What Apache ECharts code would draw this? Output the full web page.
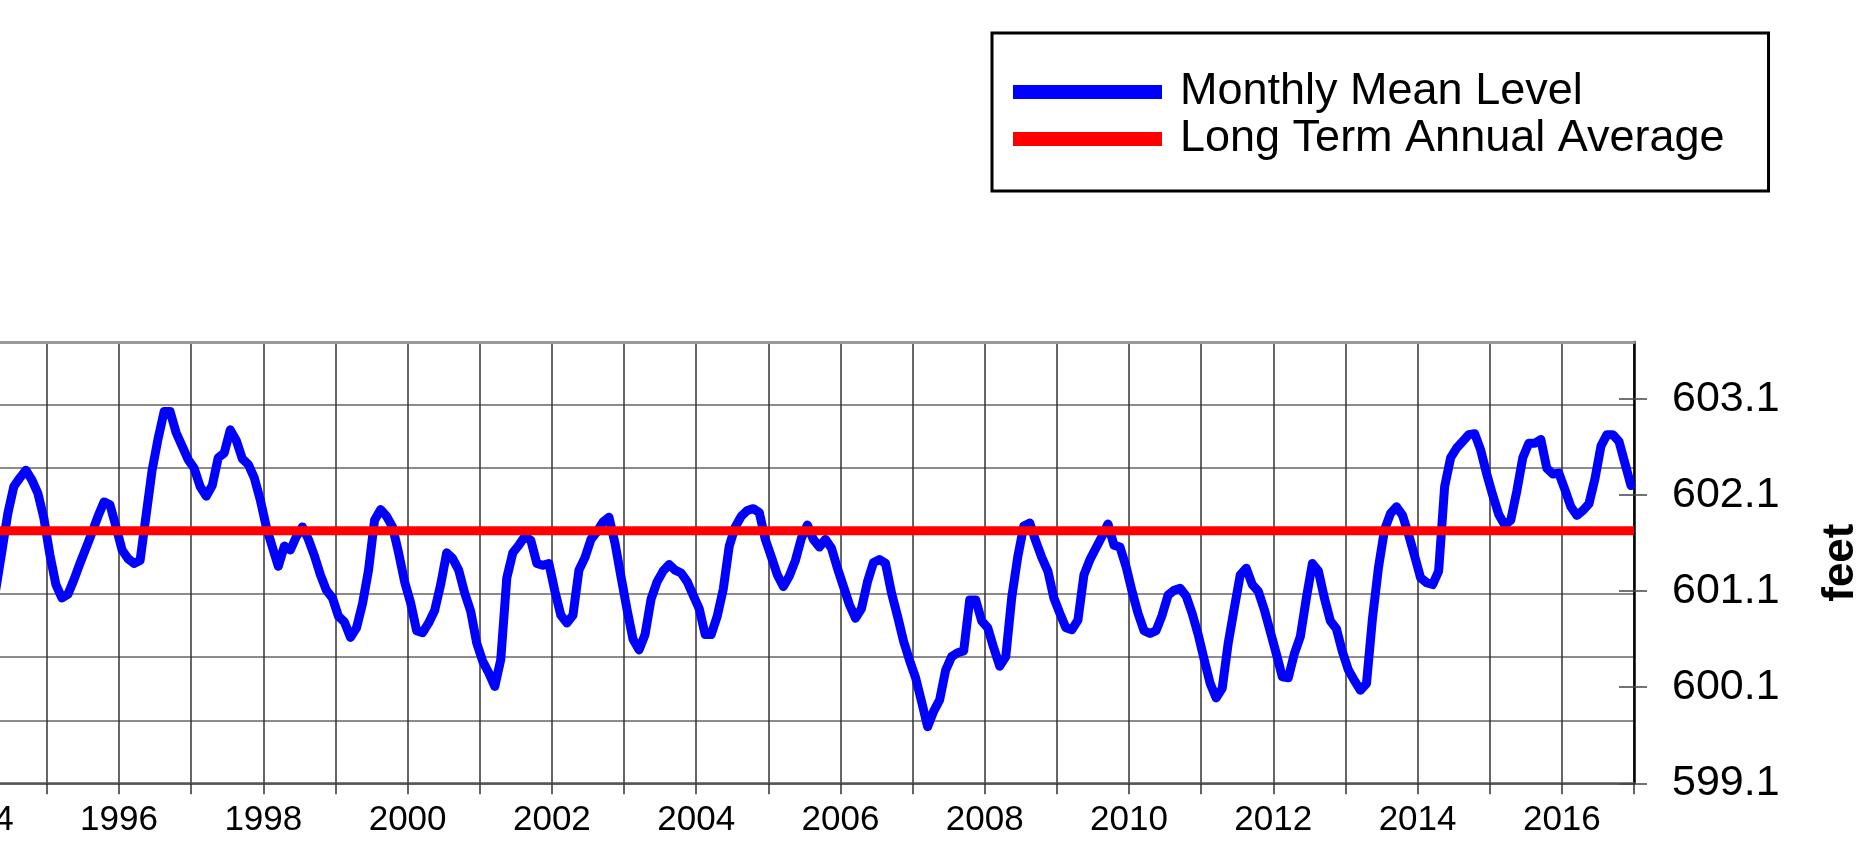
<!DOCTYPE html>
<html>
<head>
<meta charset="utf-8">
<script src="https://cdn.jsdelivr.net/npm/echarts@6/dist/echarts.min.js"></script>
<style>
html,body{margin:0;padding:0;background:#fff;}
#chart{width:1870px;height:866px;}
</style>
</head>
<body>
<div id="chart"></div>
<script>
// ---- data (feet, monthly means, Jan..Dec) ----
const years = [1994,1995,1996,1997,1998,1999,2000,2001,2002,2003,2004,2005,2006,2007,2008,2009,2010,2011,2012,2013,2014,2015,2016];
const lvl1994 = [601.20,601.10,601.05,601.10,601.49,601.89,602.17,602.26,602.34,602.24,602.10,601.84];
const lvl1995 = [601.46,601.15,601.01,601.05,601.20,601.37,601.53,601.69,601.86,602.01,601.98,601.75];
const lvl1996 = [601.51,601.42,601.37,601.40,601.87,602.34,602.67,602.95,602.95,602.73,602.59,602.45];
const lvl1997 = [602.36,602.17,602.07,602.18,602.47,602.52,602.76,602.65,602.46,602.40,602.26,602.03];
const lvl1998 = [601.75,601.54,601.34,601.55,601.51,601.65,601.75,601.62,601.45,601.25,601.09,601.01];
const lvl1999 = [600.82,600.76,600.60,600.70,600.95,601.30,601.82,601.93,601.86,601.75,601.48,601.18];
const lvl2000 = [600.96,600.67,600.65,600.75,600.88,601.15,601.48,601.42,601.30,601.06,600.87,600.54];
const lvl2001 = [600.35,600.23,600.09,600.37,601.22,601.48,601.56,601.65,601.61,601.37,601.35,601.37];
const lvl2002 = [601.08,600.83,600.75,600.83,601.30,601.43,601.62,601.70,601.80,601.85,601.58,601.23];
const lvl2003 = [600.89,600.58,600.47,600.63,601.00,601.18,601.29,601.36,601.30,601.27,601.18,601.04];
const lvl2004 = [600.90,600.63,600.63,600.82,601.10,601.55,601.75,601.86,601.92,601.94,601.90,601.62];
const lvl2005 = [601.44,601.25,601.13,601.24,601.40,601.63,601.77,601.62,601.54,601.62,601.53,601.32];
const lvl2006 = [601.13,600.94,600.80,600.90,601.18,601.38,601.41,601.37,601.06,600.82,600.56,600.36];
const lvl2007 = [600.18,599.93,599.67,599.83,599.95,600.26,600.40,600.44,600.46,600.99,600.99,600.77];
const lvl2008 = [600.70,600.49,600.30,600.40,601.02,601.44,601.76,601.79,601.60,601.43,601.29,601.01];
const lvl2009 = [600.85,600.70,600.68,600.78,601.25,601.41,601.53,601.65,601.78,601.56,601.54,601.34];
const lvl2010 = [601.08,600.85,600.67,600.64,600.67,600.83,601.04,601.09,601.11,601.03,600.85,600.63];
const lvl2011 = [600.37,600.12,599.97,600.07,600.54,600.90,601.25,601.32,601.15,601.08,600.89,600.66];
const lvl2012 = [600.43,600.19,600.18,600.43,600.61,601.01,601.37,601.29,601.01,600.77,600.69,600.45];
const lvl2013 = [600.26,600.15,600.05,600.12,600.80,601.33,601.72,601.89,601.96,601.87,601.67,601.45];
const lvl2014 = [601.22,601.17,601.15,601.29,602.17,602.47,602.57,602.64,602.71,602.72,602.55,602.30];
const lvl2015 = [602.08,601.88,601.77,601.82,602.12,602.47,602.62,602.62,602.66,602.36,602.30,602.31];
const lvl2016 = [602.14,601.96,601.87,601.92,601.99,602.25,602.59,602.71,602.71,602.64,602.41,602.18];
const monthly = [lvl1994,lvl1995,lvl1996,lvl1997,lvl1998,lvl1999,lvl2000,lvl2001,lvl2002,lvl2003,lvl2004,lvl2005,lvl2006,lvl2007,lvl2008,lvl2009,lvl2010,lvl2011,lvl2012,lvl2013,lvl2014,lvl2015,lvl2016];
const longTermAverage = 601.71;
const avgSpan = [1994, 2017];
// axis definitions
const meterRange = [182.6, 184.0];
const FT_PER_M = 3.28084;
const feetRange = [meterRange[0]*FT_PER_M, meterRange[1]*FT_PER_M];
const feetTickValues = [0,1,2,3,4].map(i => feetRange[0] + i);
const seriesNames = ['Monthly Mean Level', 'Long Term Annual Average'];

const levelData = [];
years.forEach((y, i) => {
  monthly[i].forEach((v, m) => levelData.push([y + (m + 0.5) / 12, v]));
});
const avgData = avgSpan.map(t => [t, longTermAverage]);

const FONT = 'Liberation Sans, Arial, Helvetica, sans-serif';
const chart = echarts.init(document.getElementById('chart'), null, {renderer: 'canvas'});
chart.setOption({
  animation: false,
  backgroundColor: '#fff',
  grid: {left: -25.25, right: 236, top: 342, bottom: 82.7, containLabel: false, outerBoundsMode: 'none'},
  legend: {
    data: seriesNames,
    orient: 'vertical',
    left: 992, top: 33,
    padding: [35.5, 44, 28.5, 21],
    itemGap: 0,
    itemWidth: 149, itemHeight: 14,
    icon: 'rect',
    borderColor: '#000', borderWidth: 3,
    selectedMode: false,
    textStyle: {fontFamily: FONT, fontSize: 45, color: '#000', lineHeight: 47, padding: [0,0,0,13]}
  },
  xAxis: [{
    type: 'value', min: 1994, max: 2017, interval: 1, position: 'bottom',
    axisLine: {show: true, lineStyle: {color: '#555', width: 2.5}},
    axisTick: {show: true, length: 11, lineStyle: {color: '#333', width: 1.5}},
    axisLabel: {fontFamily: FONT, fontSize: 35, color: '#000', margin: 20,
      formatter: v => (v % 2 === 0 ? String(v) : '')},
    splitLine: {show: true, lineStyle: {color: '#333', width: 1.5}}
  }, {
    type: 'value', min: 1994, max: 2017, position: 'top',
    axisLine: {show: true, lineStyle: {color: '#999', width: 3}},
    axisTick: {show: false}, axisLabel: {show: false}, splitLine: {show: false}
  }],
  yAxis: [{
    type: 'value', min: meterRange[0], max: meterRange[1], interval: 0.2, position: 'left',
    axisLine: {show: false}, axisTick: {show: false}, axisLabel: {show: false},
    splitLine: {show: true, lineStyle: {color: '#666', width: 1.5}}
  }, {
    type: 'value', min: feetRange[0], max: feetRange[1], position: 'right',
    name: 'feet', nameLocation: 'middle', nameRotate: 90, nameGap: 185,
    nameTextStyle: {fontFamily: FONT, fontSize: 44, fontWeight: 'bold', color: '#000'},
    axisLine: {show: true, lineStyle: {color: '#000', width: 2.5}},
    axisTick: {show: true, length: 13, customValues: feetTickValues, lineStyle: {color: '#444', width: 1.5}},
    axisLabel: {fontFamily: FONT, fontSize: 43, color: '#000', margin: 38,
      customValues: feetTickValues, formatter: v => v.toFixed(1)},
    splitLine: {show: false}
  }, {
    type: 'value', min: feetRange[0], max: feetRange[1], position: 'right',
    axisLine: {show: false},
    axisTick: {show: true, inside: true, length: 15, customValues: feetTickValues, lineStyle: {color: '#444', width: 1.5}},
    axisLabel: {show: false}, splitLine: {show: false}
  }],
  series: [{
    name: seriesNames[0], type: 'line', xAxisIndex: 0, yAxisIndex: 1,
    data: levelData, showSymbol: false, symbol: 'none',
    lineStyle: {color: '#0000FF', width: 9, join: 'round', cap: 'round'},
    itemStyle: {color: '#0000FF'}, z: 3
  }, {
    name: seriesNames[1], type: 'line', xAxisIndex: 0, yAxisIndex: 1,
    data: avgData, showSymbol: false, symbol: 'none',
    lineStyle: {color: '#FF0000', width: 9, cap: 'butt'},
    itemStyle: {color: '#FF0000'}, z: 4
  }]
});
</script>
</body>
</html>
